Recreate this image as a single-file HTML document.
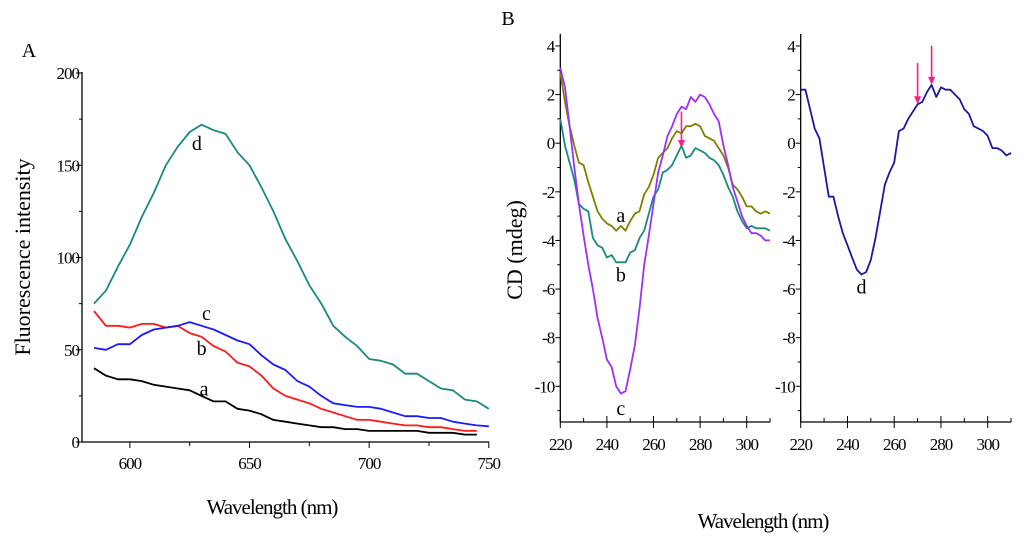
<!DOCTYPE html>
<html><head><meta charset="utf-8"><style>
body{margin:0;background:#fff}
svg{display:block;font-family:"Liberation Serif",serif}
</style></head><body>
<svg id="chart" width="1024" height="546" viewBox="0 0 1024 546"></svg>
<script>
// Panel A data
const fluoX=[585,590,595,600,605,610,615,620,625,630,635,640,645,650,655,660,665,670,675,680,685,690,695,700,705,710,715,720,725,730,735,740,745,750];
const fluoD=[75,82,95,107,122,135,150,160,168,172,169,167,157,150,138,125,110,98,85,75,63,57,52,45,44,42,37,37,33,29,28,23,22,18];
const fluoC=[51,50,53,53,58,61,62,63,65,63,61,58,55,53,47,42,39,33,30,25,21,20,19,19,18,16,14,14,13,13,11,10,9,8.5];
const fluoB=[71,63,63,62,64,64,62,63,59,57,52,49,43,41,36,29,25,23,21,18,16,14,12,12,11,10,9,9,8,8,7,6,6,null];
const fluoA=[40,36,34,34,33,31,30,29,28,25,22,22,18,17,15,12,11,10,9,8,8,7,7,6,6,6,6,6,5,5,5,4,4,null];
const fluoYTicks=[0,50,100,150,200];
const fluoXTicks=[600,650,700,750];
// Panel B data
const cdX=[220,222,224,226,228,230,232,234,236,238,240,242,244,246,248,250,252,254,256,258,260,262,264,266,268,270,272,274,276,278,280,282,284,286,288,290,292,294,296,298,300,302,304,306,308,310];
const cdC=[3.1,2.3,0.7,-1,-2.5,-3.8,-5,-6,-7.2,-8,-8.9,-9.2,-10,-10.3,-10.2,-9.3,-8.3,-6.8,-5,-3.8,-2.5,-1.2,-0.5,0.3,0.7,1.2,1.5,1.4,1.9,1.7,2.0,1.9,1.6,1.2,0.9,-0.1,-0.9,-1.8,-2.4,-3,-3.4,-3.7,-3.7,-3.8,-4,-4];
const cdA=[2.9,1.7,0.7,-0.1,-0.8,-0.9,-1.6,-2.2,-2.8,-3.1,-3.3,-3.4,-3.6,-3.4,-3.6,-3.2,-2.9,-2.8,-2.1,-1.8,-1.3,-0.6,-0.4,-0.2,0.2,0.5,0.4,0.7,0.7,0.8,0.7,0.3,0.2,0.1,-0.2,-0.5,-1,-1.7,-1.9,-2.2,-2.6,-2.6,-2.8,-2.9,-2.8,-2.9];
const cdB=[1.0,-0.1,-0.8,-1.5,-2.5,-2.7,-2.8,-3.9,-4.2,-4.3,-4.7,-4.6,-4.9,-4.9,-4.9,-4.5,-4.4,-3.9,-3.6,-2.9,-2.2,-1.9,-1.2,-1.1,-0.9,-0.5,-0.1,-0.6,-0.5,-0.2,-0.3,-0.4,-0.6,-0.7,-0.9,-1.3,-1.8,-2.2,-2.8,-3.2,-3.5,-3.4,-3.5,-3.5,-3.5,-3.6];
const cdD=[2.2,2.2,1.4,0.6,0.2,-1,-2.2,-2.2,-3,-3.7,-4.2,-4.7,-5.2,-5.4,-5.3,-4.8,-3.9,-2.8,-1.7,-1.2,-0.8,0.5,0.6,1.0,1.3,1.6,1.7,2.1,2.4,1.9,2.3,2.2,2.2,2.0,1.8,1.4,1.2,0.7,0.6,0.5,0.3,-0.2,-0.2,-0.3,-0.5,-0.4];
const cdYTicks=[4,2,0,-2,-4,-6,-8,-10];
const cdXTicks=[220,240,260,280,300];

const NS="http://www.w3.org/2000/svg";
const svg=document.getElementById('chart');
function mk(tag,attrs,parent,text){const e=document.createElementNS(NS,tag);for(const k in attrs)e.setAttribute(k,attrs[k]);if(text!==undefined)e.textContent=text;(parent||svg).appendChild(e);return e;}

const ax=v=>82+(v-580)*2.393;
const ay=v=>442-v*1.845;
const bxL=v=>560.3+(v-220)*2.33;
const bxR=v=>800.7+(v-220)*2.3375;
const by=v=>143.2-v*24.31;

function line(xs,ys,fx,fy,color,name,w){
  let d='';let started=false;
  xs.forEach((x,i)=>{const y=ys[i];if(y===null||y===undefined)return;d+=(started?'L':'M')+fx(x).toFixed(1)+','+fy(y).toFixed(1);started=true;});
  const p=mk('path',{d:d,fill:'none',stroke:color,'stroke-width':w||1.8,'stroke-linejoin':'round'});
  
  
}
function label(x,y,t,name,size,ls){const e=mk('text',{x:x,y:y,'font-size':size||20,'text-anchor':'middle'},svg,t);if(ls)e.setAttribute('letter-spacing',ls);return e;}

// ---- Panel A ----
label(29,57,'A','panel-a-label',20);
mk('line',{x1:82,y1:72,x2:82,y2:442,stroke:'#000','stroke-width':1.3});
mk('line',{x1:82,y1:442,x2:489,y2:442,stroke:'#000','stroke-width':1.3});
fluoYTicks.forEach(v=>{mk('line',{x1:76,y1:ay(v),x2:82,y2:ay(v),stroke:'#000'});const t=label(79,ay(v)+6,String(v),'y-tick-label-a',17,-1);t.setAttribute('text-anchor','end');});
[25,75,125,175].forEach(v=>mk('line',{x1:79,y1:ay(v),x2:82,y2:ay(v),stroke:'#000'}));
fluoXTicks.forEach(v=>{mk('line',{x1:ax(v),y1:442,x2:ax(v),y2:448,stroke:'#000'});label(ax(v),469,String(v),'x-tick-label-a',17,-1);});
[625,675,725].forEach(v=>mk('line',{x1:ax(v),y1:442,x2:ax(v),y2:446,stroke:'#000'}));
let t=label(0,0,'Fluorescence intensity','y-axis-title-a',22);t.setAttribute('transform','translate(30,257) rotate(-90)');
label(272,514,'Wavelength (nm)','x-axis-title-a',21,-1);
line(fluoX,fluoA,ax,ay,'#000','series-a-fluo');
line(fluoX,fluoB,ax,ay,'#ff1a1a','series-b-fluo');
line(fluoX,fluoC,ax,ay,'#1a1aff','series-c-fluo');
line(fluoX,fluoD,ax,ay,'#1a8a80','series-d-fluo');
label(ax(628),ay(162)+7,'d','label-d-fluo');
label(ax(632),ay(70)+7,'c','label-c-fluo');
label(ax(630),ay(51)+7,'b','label-b-fluo');
label(ax(631),ay(29)+7,'a','label-a-fluo');

// ---- Panel B ----
label(508,25,'B','panel-b-label',20);
t=label(0,0,'CD (mdeg)','y-axis-title-b',22);t.setAttribute('transform','translate(522,250) rotate(-90)');
label(763,528,'Wavelength (nm)','x-axis-title-b',21,-1);
function cdAxes(fx,x0,x1,name){
  mk('line',{x1:x0,y1:34,x2:x0,y2:422,stroke:'#000','stroke-width':1.3});
  mk('line',{x1:x0,y1:422,x2:x1,y2:422,stroke:'#000','stroke-width':1.3});
  cdYTicks.forEach(v=>{mk('line',{x1:x0-5,y1:by(v),x2:x0,y2:by(v),stroke:'#000'});const e=label(x0-6,by(v)+6,String(v),'y-tick-label-'+name,17,-1);e.setAttribute('text-anchor','end');});
  [3,1,-1,-3,-5,-7,-9,-11].forEach(v=>mk('line',{x1:x0-3,y1:by(v),x2:x0,y2:by(v),stroke:'#000'}));
  cdXTicks.forEach(v=>{mk('line',{x1:fx(v),y1:416,x2:fx(v),y2:428,stroke:'#000'});label(fx(v),450,String(v),'x-tick-label-'+name,17,-1);});
  [230,250,270,290,310].forEach(v=>mk('line',{x1:fx(v),y1:418,x2:fx(v),y2:422,stroke:'#000'}));
}
cdAxes(bxL,560.3,770.3,'b-left');
cdAxes(bxR,800.7,1011,'b-right');
line(cdX,cdA,bxL,by,'#808000','series-a-cd');
line(cdX,cdB,bxL,by,'#1a8a80','series-b-cd');
line(cdX,cdC,bxL,by,'#9b30ff','series-c-cd');
line(cdX,cdD,bxR,by,'#1a1aa0','series-d-cd');
label(bxL(246),by(-3.0)+6,'a','label-a-cd');
label(bxL(246),by(-5.4)+7,'b','label-b-cd');
label(bxL(246),by(-10.9)+7,'c','label-c-cd');
label(bxR(246),by(-5.9)+7,'d','label-d-cd');
function arrow(x,y0,y1,name){
  const g=mk('g',{});
  mk('line',{x1:x,y1:y0,x2:x,y2:y1-6,stroke:'#ff1a8c','stroke-width':1.6},g);
  mk('path',{d:`M${x-3.5},${y1-8}L${x+3.5},${y1-8}L${x},${y1}Z`,fill:'#ff1a8c'},g);
}
arrow(bxL(272),by(1.3),by(-0.2),'arrow-left');
arrow(bxR(270),by(3.3),by(1.6),'arrow-right-1');
arrow(bxR(276),by(4.0),by(2.4),'arrow-right-2');
</script>
</body></html>
